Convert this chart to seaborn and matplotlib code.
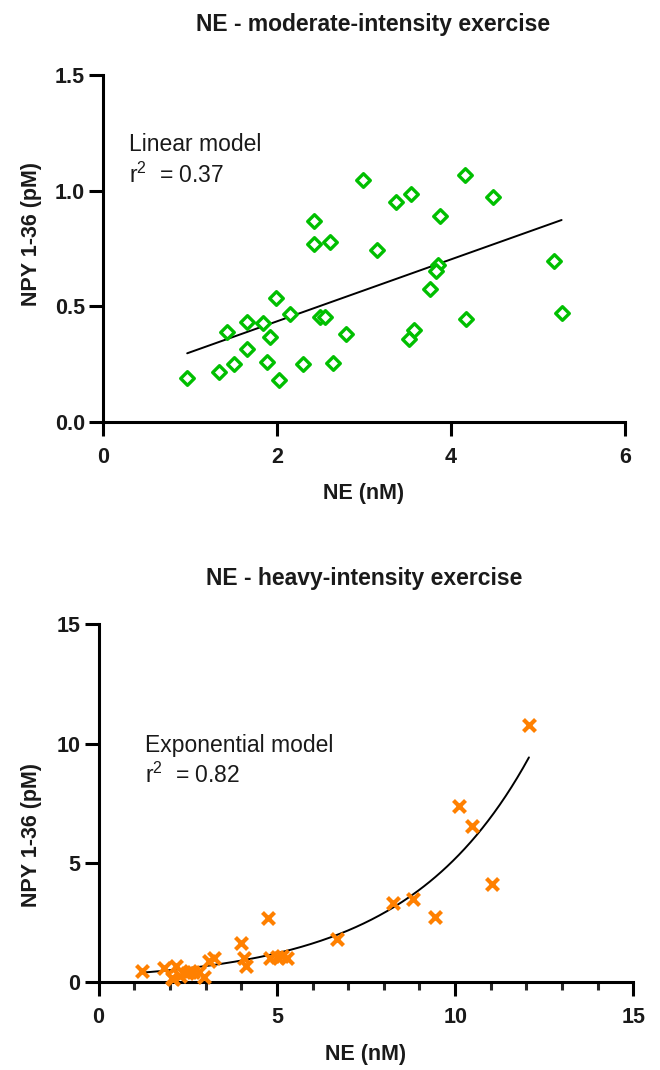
import numpy as np
import pandas as pd
import matplotlib
matplotlib.use("Agg")
import matplotlib.pyplot as plt
import seaborn as sns
from matplotlib.ticker import MultipleLocator

# ---- data: moderate-intensity exercise ----
mod_ne = [0.968, 1.333, 1.505, 1.421, 1.655, 1.655, 1.839, 1.919, 1.881, 1.992,
          2.020, 2.146, 2.303, 2.495, 2.553, 2.648, 2.791, 2.426, 2.426, 2.610,
          2.990, 3.147, 3.373, 3.542, 4.163, 4.482, 3.868, 3.856, 3.826, 3.764,
          3.577, 3.523, 4.171, 5.180, 5.271]
mod_npy = [0.189, 0.215, 0.250, 0.388, 0.432, 0.316, 0.430, 0.368, 0.260, 0.537,
           0.182, 0.469, 0.251, 0.453, 0.453, 0.257, 0.381, 0.870, 0.768, 0.776,
           1.046, 0.742, 0.952, 0.987, 1.066, 0.973, 0.892, 0.680, 0.654, 0.574,
           0.397, 0.358, 0.447, 0.698, 0.472]
lin_slope = 0.1339
lin_intercept = 0.1674

# ---- data: heavy-intensity exercise ----
heavy_ne = [1.21, 1.83, 2.17, 2.05, 2.10, 2.28, 2.47, 2.56, 2.64, 2.81,
            2.96, 3.11, 3.25, 3.99, 4.08, 4.13, 4.76, 4.81, 5.00, 5.14,
            5.28, 6.68, 8.27, 8.83, 9.44, 10.12, 10.48, 11.04, 12.07]
heavy_npy = [0.47, 0.60, 0.68, 0.20, 0.15, 0.28, 0.38, 0.47, 0.43, 0.42,
             0.25, 0.92, 1.02, 1.66, 1.03, 0.67, 2.71, 1.03, 1.06, 1.09,
             1.03, 1.80, 3.32, 3.51, 2.75, 7.38, 6.56, 4.11, 10.78]
exp_a = 0.289
exp_k = 0.2887

titles = ["NE - moderate-intensity exercise", "NE - heavy-intensity exercise"]
x_label = "NE (nM)"
y_label = "NPY 1-36 (pM)"
model_names = ["Linear model", "Exponential model"]
r2_texts = ["r$^2$  = 0.37", "r$^2$  = 0.82"]

sns.set_style("ticks")
plt.rcParams["font.family"] = ["Liberation Sans", "DejaVu Sans"]
plt.rcParams["mathtext.fontset"] = "custom"
plt.rcParams["mathtext.rm"] = "Liberation Sans"
plt.rcParams["mathtext.it"] = "Liberation Sans:italic"
plt.rcParams["mathtext.bf"] = "Liberation Sans:bold"

GREEN = "#00bf00"
ORANGE = "#ff8000"
TXT = "#1a1a1a"

fig = plt.figure(figsize=(6.6, 10.7), dpi=100)
ax1 = fig.add_axes([0.156, 0.6056, 0.791, 0.3243])
ax2 = fig.add_axes([0.1494, 0.0818, 0.8103, 0.3348])

# top panel
mdf = pd.DataFrame({"conc": mod_ne, "npy": mod_npy})
xs1 = np.linspace(mdf["conc"].min(), mdf["conc"].max(), 50)
sns.lineplot(x=xs1, y=lin_intercept + lin_slope * xs1, color="black",
             linewidth=1.4, ax=ax1, zorder=2)
sns.scatterplot(data=mdf, x="conc", y="npy", marker="D", s=48,
                facecolors="white", edgecolor=GREEN, linewidth=2.4,
                ax=ax1, zorder=3)
ax1.set_xlim(0, 6)
ax1.set_ylim(0, 1.5)
ax1.xaxis.set_major_locator(MultipleLocator(2))
ax1.yaxis.set_major_locator(MultipleLocator(0.5))
ax1.yaxis.set_major_formatter(matplotlib.ticker.FormatStrFormatter("%.1f"))

# bottom panel
hdf = pd.DataFrame({"conc": heavy_ne, "npy": heavy_npy})
xs2 = np.linspace(hdf["conc"].min(), hdf["conc"].max(), 200)
sns.lineplot(x=xs2, y=exp_a * np.exp(exp_k * xs2), color="black",
             linewidth=1.4, ax=ax2, zorder=2)
sns.scatterplot(data=hdf, x="conc", y="npy", marker="x", s=75,
                color=ORANGE, linewidth=3.0, ax=ax2, zorder=3)
ax2.set_xlim(0, 15)
ax2.set_ylim(0, 15)
ax2.xaxis.set_major_locator(MultipleLocator(5))
ax2.xaxis.set_minor_locator(MultipleLocator(1))
ax2.yaxis.set_major_locator(MultipleLocator(5))

label_ycoords = [0.542, 0.412]
label_xcoords = [-0.116, -0.106]
text_x = [0.05, 0.0868]
text_y1 = [0.781, 0.644]
text_y2 = [0.688, 0.556]
title_pads = [32, 28.5]
title_x = [0.517, 0.497]

for i, ax in enumerate([ax1, ax2]):
    sns.despine(ax=ax)
    for s in ["left", "bottom"]:
        ax.spines[s].set_linewidth(2.2)
        ax.spines[s].set_color("black")
    ax.tick_params(axis="both", which="major", length=10, width=2.2,
                   labelsize=15.5, colors="black", labelcolor=TXT)
    ax.tick_params(axis="x", which="major", pad=8)
    ax.tick_params(axis="y", which="major", pad=3)
    ax.tick_params(axis="x", which="minor", length=6, width=2.2)
    for lab in ax.get_xticklabels() + ax.get_yticklabels():
        lab.set_fontweight("bold")
    ax.set_xlabel(x_label, fontsize=15.5, fontweight="bold", color=TXT, labelpad=11)
    ax.set_ylabel(y_label, fontsize=15.5, fontweight="bold", color=TXT)
    ax.yaxis.set_label_coords(label_xcoords[i], label_ycoords[i])
    ax.set_title(titles[i], fontsize=16.5, fontweight="bold", color=TXT,
                 pad=title_pads[i], x=title_x[i])
    ax.text(text_x[i], text_y1[i], model_names[i], transform=ax.transAxes,
            fontsize=16.5, color=TXT, va="baseline", ha="left")
    ax.text(text_x[i], text_y2[i], r2_texts[i], transform=ax.transAxes,
            fontsize=16.5, color=TXT, va="baseline", ha="left")
    for c in ax.collections:
        c.set_clip_on(False)

fig.savefig("out.png", dpi=100)
